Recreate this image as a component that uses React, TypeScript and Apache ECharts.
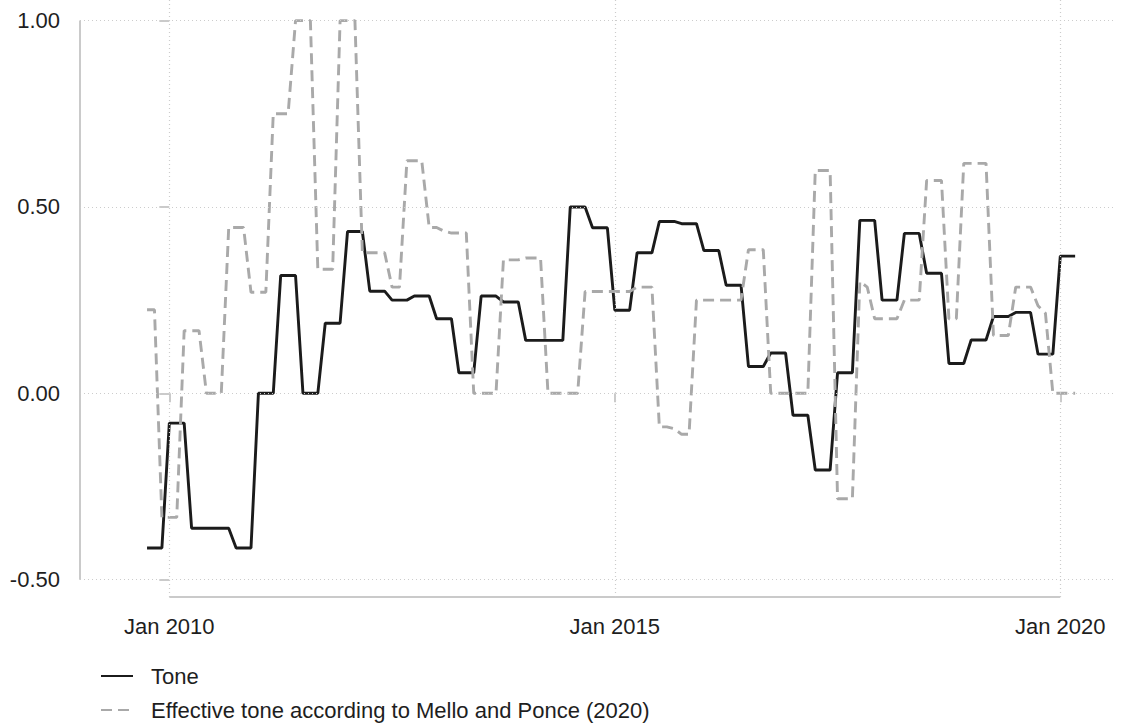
import React, { useEffect, useRef } from "react";
import * as echarts from "echarts";

// Months are counted from Jan 2010 (0); the series start in Oct 2009.
const firstMonth = -3;

const seriesNames = ["Tone", "Effective tone according to Mello and Ponce (2020)"];

// Tone, monthly Oct 2009 .. Mar 2020
const tone = [
  -0.415, -0.415, -0.415,
  -0.08, -0.08, -0.08, -0.362, -0.362, -0.362, -0.362, -0.362, -0.362, -0.415, -0.415, -0.415,
  0, 0, 0, 0.316, 0.316, 0.316, 0, 0, 0, 0.188, 0.188, 0.188,
  0.434, 0.434, 0.434, 0.274, 0.274, 0.274, 0.25, 0.25, 0.25, 0.261, 0.261, 0.261,
  0.2, 0.2, 0.2, 0.055, 0.055, 0.055, 0.261, 0.261, 0.261, 0.245, 0.245, 0.245,
  0.142, 0.142, 0.142, 0.142, 0.142, 0.142, 0.5, 0.5, 0.5, 0.444, 0.444, 0.444,
  0.223, 0.223, 0.223, 0.377, 0.377, 0.377, 0.461, 0.461, 0.461, 0.455, 0.455, 0.455,
  0.383, 0.383, 0.383, 0.29, 0.29, 0.29, 0.072, 0.072, 0.072, 0.108, 0.108, 0.108,
  -0.059, -0.059, -0.059, -0.206, -0.206, -0.206, 0.055, 0.055, 0.055, 0.464, 0.464, 0.464,
  0.25, 0.25, 0.25, 0.429, 0.429, 0.429, 0.322, 0.322, 0.322, 0.08, 0.08, 0.08,
  0.143, 0.143, 0.143, 0.206, 0.206, 0.206, 0.217, 0.217, 0.217, 0.105, 0.105, 0.105,
  0.368, 0.368, 0.368,
];

// Effective tone according to Mello and Ponce (2020), monthly Oct 2009 .. Mar 2020
const effectiveTone = [
  0.224, 0.224, -0.333,
  -0.333, -0.333, 0.168, 0.168, 0.168, 0, 0, 0, 0.445, 0.445, 0.445, 0.271,
  0.271, 0.271, 0.75, 0.75, 0.75, 1, 1, 1, 0.333, 0.333, 0.333, 1,
  1, 1, 0.377, 0.377, 0.377, 0.377, 0.285, 0.285, 0.624, 0.624, 0.624, 0.445,
  0.445, 0.435, 0.43, 0.43, 0.43, 0, 0, 0, 0, 0.358, 0.358, 0.358,
  0.363, 0.363, 0.363, 0, 0, 0, 0, 0, 0.273, 0.273, 0.273, 0.273,
  0.273, 0.273, 0.273, 0.285, 0.285, 0.285, -0.09, -0.09, -0.095, -0.11, -0.11, 0.25,
  0.25, 0.25, 0.25, 0.25, 0.25, 0.25, 0.385, 0.385, 0.385, 0, 0, 0,
  0, 0, 0, 0.598, 0.598, 0.598, -0.283, -0.283, -0.283, 0.3, 0.285, 0.2,
  0.2, 0.2, 0.2, 0.25, 0.25, 0.25, 0.571, 0.571, 0.571, 0.2, 0.2, 0.617,
  0.617, 0.617, 0.617, 0.155, 0.155, 0.155, 0.285, 0.285, 0.285, 0.235, 0.215, 0,
  0, 0, 0,
];

const xTickValues = [0, 60, 120];
const xTickLabels = ["Jan 2010", "Jan 2015", "Jan 2020"];
const yTickValues = [-0.5, 0, 0.5, 1];

const FONT = "'Liberation Sans', Arial, Helvetica, sans-serif";
const TEXT_COLOR = "#1e1e1e";
const AXIS_COLOR = "#b9b9b9";

export default function App() {
  const ref = useRef<HTMLDivElement>(null);

  useEffect(() => {
    if (!ref.current) return;
    const chart = echarts.init(ref.current, null, { renderer: "svg" });
    const pairs = (vals: number[]) => vals.map((v, i) => [firstMonth + i, v]);
    const gridStyle = { color: "#cccccc", width: 1.2, type: [1, 3] as any };

    chart.setOption({
      animation: false,
      grid: { left: 80, right: 17, top: 0, bottom: 129 },
      xAxis: {
        type: "value",
        min: -12.03,
        max: 127.37,
        axisLine: { show: false },
        splitLine: { show: false },
        axisTick: {
          show: true,
          customValues: xTickValues,
          length: 9,
          lineStyle: { color: AXIS_COLOR, width: 1.5 },
        },
        axisLabel: {
          customValues: xTickValues,
          formatter: (v: number) => {
            const i = xTickValues.indexOf(Math.round(v));
            return i >= 0 ? xTickLabels[i] : "";
          },
          fontSize: 22,
          fontFamily: FONT,
          color: TEXT_COLOR,
          margin: 18,
        },
      },
      yAxis: {
        type: "value",
        min: -0.5466,
        max: 1.0553,
        axisLine: { show: false },
        splitLine: { show: false },
        axisTick: {
          show: true,
          customValues: yTickValues,
          length: 10,
          lineStyle: { color: AXIS_COLOR, width: 1.5 },
        },
        axisLabel: {
          customValues: yTickValues,
          formatter: (v: number) => v.toFixed(2),
          fontSize: 22,
          fontFamily: FONT,
          color: TEXT_COLOR,
          margin: 20,
        },
      },
      legend: {
        data: seriesNames,
        orient: "vertical",
        left: 100,
        top: 665,
        itemWidth: 32,
        itemHeight: 14,
        itemGap: 12,
        padding: 0,
        itemStyle: { opacity: 0 },
        textStyle: { fontSize: 22, fontFamily: FONT, color: TEXT_COLOR, padding: [0, 0, 0, 13] },
      },
      series: [
        {
          name: seriesNames[0],
          type: "line",
          data: pairs(tone),
          symbol: "none",
          z: 3,
          lineStyle: { color: "#1b1b1b", width: 2.9 },
          itemStyle: { color: "#1b1b1b" },
          markLine: {
            silent: true,
            symbol: "none",
            label: { show: false },
            lineStyle: gridStyle,
            data: [
              ...yTickValues.map((v) => ({ yAxis: v })),
              ...xTickValues.map((v) => ({ xAxis: v })),
            ],
          },
        },
        {
          name: seriesNames[1],
          type: "line",
          data: pairs(effectiveTone),
          symbol: "none",
          z: 4,
          lineStyle: { color: "#a9a9a9", width: 2.9, type: [11, 6] },
          itemStyle: { color: "#a9a9a9" },
        },
      ],
    });

    // axis lines spanning only the labelled range (drawn from the axes' own scales)
    const x0 = chart.convertToPixel({ xAxisIndex: 0 }, xTickValues[0]);
    const x1 = chart.convertToPixel({ xAxisIndex: 0 }, xTickValues[xTickValues.length - 1]);
    const yBottom = chart.convertToPixel({ yAxisIndex: 0 }, -0.5466);
    const yTop = chart.convertToPixel({ yAxisIndex: 0 }, yTickValues[yTickValues.length - 1]);
    const yLow = chart.convertToPixel({ yAxisIndex: 0 }, yTickValues[0]);
    const xLeft = chart.convertToPixel({ xAxisIndex: 0 }, -12.03);
    chart.setOption({
      graphic: [
        {
          type: "line",
          shape: { x1: x0, y1: yBottom, x2: x1, y2: yBottom },
          style: { stroke: AXIS_COLOR, lineWidth: 1.5 },
          silent: true,
        },
        {
          type: "line",
          shape: { x1: xLeft, y1: yTop, x2: xLeft, y2: yLow },
          style: { stroke: AXIS_COLOR, lineWidth: 1.5 },
          silent: true,
        },
      ],
    });

    return () => chart.dispose();
  }, []);

  return (
    <div
      ref={ref}
      style={{ position: "absolute", left: 0, top: 0, width: 1132, height: 726, background: "#fff" }}
    />
  );
}
